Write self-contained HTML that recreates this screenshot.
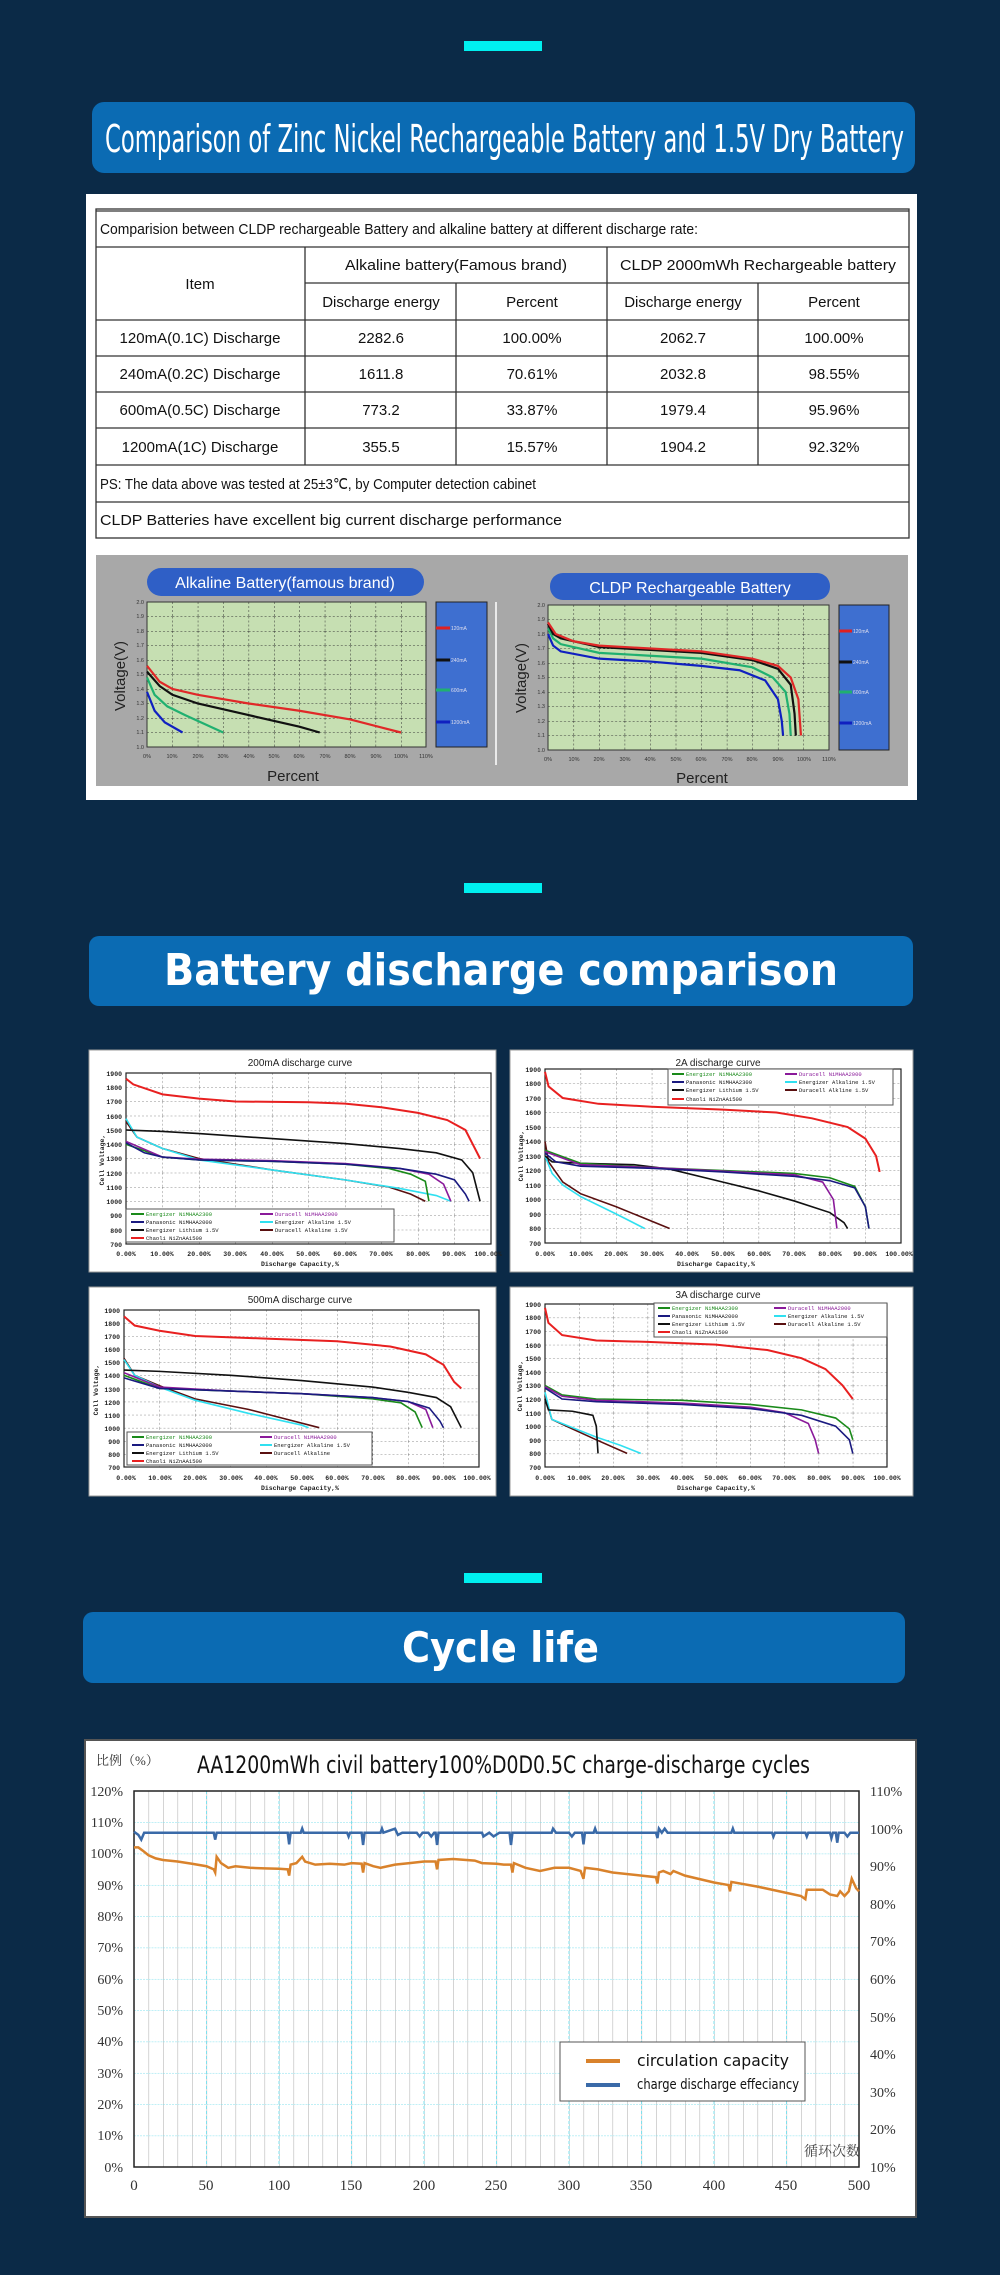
<!DOCTYPE html>
<html><head><meta charset="utf-8">
<style>
html,body{margin:0;padding:0;background:#0b2a47;}
svg{display:block}
</style></head>
<body>
<svg width="1000" height="2275" viewBox="0 0 1000 2275" xmlns="http://www.w3.org/2000/svg" font-family="Liberation Sans, sans-serif">
<defs>
<pattern id="gA" x="147" y="602" width="25.4" height="14.5" patternUnits="userSpaceOnUse"><path d="M0 0H25.4M0 0V14.5" stroke="#333" stroke-width="1" stroke-dasharray="2,2" fill="none"/></pattern>
<pattern id="gB" x="548" y="605" width="25.55" height="14.5" patternUnits="userSpaceOnUse"><path d="M0 0H25.55M0 0V14.5" stroke="#333" stroke-width="1" stroke-dasharray="2,2" fill="none"/></pattern>
<pattern id="g1" x="126" y="1073" width="36.5" height="14.25" patternUnits="userSpaceOnUse"><path d="M0 0H36.5M0 0V14.25" stroke="#666" stroke-width="0.8" stroke-dasharray="2,2" fill="none"/></pattern>
<pattern id="g2" x="545" y="1069" width="35.6" height="14.5" patternUnits="userSpaceOnUse"><path d="M0 0H35.6M0 0V14.5" stroke="#666" stroke-width="0.8" stroke-dasharray="2,2" fill="none"/></pattern>
<pattern id="g3" x="124" y="1310" width="35.5" height="13.1" patternUnits="userSpaceOnUse"><path d="M0 0H35.5M0 0V13.1" stroke="#666" stroke-width="0.8" stroke-dasharray="2,2" fill="none"/></pattern>
<pattern id="g4" x="545" y="1304" width="34.2" height="13.6" patternUnits="userSpaceOnUse"><path d="M0 0H34.2M0 0V13.6" stroke="#666" stroke-width="0.8" stroke-dasharray="2,2" fill="none"/></pattern>
<pattern id="gc" x="134" y="1791" width="14.5" height="31.33" patternUnits="userSpaceOnUse"><path d="M0 0V31.33" stroke="#b8b8b8" stroke-width="1.2" fill="none"/><path d="M0 0H14.5" stroke="#7fe0ee" stroke-width="1" stroke-dasharray="2,1" fill="none"/></pattern>
</defs>

<rect x="464" y="41" width="78" height="10" fill="#00f0f0"/>
<rect x="464" y="883" width="78" height="10" fill="#00f0f0"/>
<rect x="464" y="1573" width="78" height="10" fill="#00f0f0"/>

<rect x="92" y="102" width="823" height="71" rx="12" fill="#0b6bb3"/>
<text x="105" y="152" font-size="38" fill="#fff" textLength="799" lengthAdjust="spacingAndGlyphs" font-family="DejaVu Sans, sans-serif">Comparison of Zinc  Nickel Rechargeable Battery and 1.5V Dry Battery</text>
<rect x="89" y="936" width="824" height="70" rx="10" fill="#0b6bb3"/>
<text x="164" y="985" font-size="44" font-weight="bold" fill="#fff" textLength="674" lengthAdjust="spacingAndGlyphs" font-family="DejaVu Sans, sans-serif">Battery discharge comparison</text>
<rect x="83" y="1612" width="822" height="71" rx="10" fill="#0b6bb3"/>
<text x="402" y="1662" font-size="42" font-weight="bold" fill="#fff" textLength="197" lengthAdjust="spacingAndGlyphs" font-family="DejaVu Sans, sans-serif">Cycle life</text>

<rect x="86" y="194" width="831" height="606" fill="#fff"/>
<g stroke="#333" stroke-width="1.3" fill="none">
<rect x="96" y="209" width="813" height="329"/>
<line x1="96" y1="211" x2="909" y2="211"/>
<line x1="96" y1="247" x2="909" y2="247"/>
<line x1="305" y1="283" x2="909" y2="283"/>
<line x1="96" y1="320" x2="909" y2="320"/>
<line x1="96" y1="356" x2="909" y2="356"/>
<line x1="96" y1="392" x2="909" y2="392"/>
<line x1="96" y1="428" x2="909" y2="428"/>
<line x1="96" y1="465" x2="909" y2="465"/>
<line x1="96" y1="502" x2="909" y2="502"/>
<line x1="305" y1="247" x2="305" y2="465"/>
<line x1="607" y1="247" x2="607" y2="465"/>
<line x1="456" y1="283" x2="456" y2="465"/>
<line x1="758" y1="283" x2="758" y2="465"/>
</g>
<g font-size="15" fill="#111" text-anchor="middle">
<text x="100" y="234" text-anchor="start" textLength="598" lengthAdjust="spacingAndGlyphs">Comparision between CLDP rechargeable Battery and alkaline battery at different discharge rate:</text>
<text x="200" y="289">Item</text>
<text x="456" y="270" textLength="222" lengthAdjust="spacingAndGlyphs">Alkaline battery(Famous brand)</text>
<text x="758" y="270" textLength="276" lengthAdjust="spacingAndGlyphs">CLDP 2000mWh Rechargeable battery</text>
<text x="381" y="307">Discharge energy</text><text x="532" y="307">Percent</text>
<text x="683" y="307">Discharge energy</text><text x="834" y="307">Percent</text>
<text x="200" y="343">120mA(0.1C) Discharge</text><text x="381" y="343">2282.6</text><text x="532" y="343">100.00%</text><text x="683" y="343">2062.7</text><text x="834" y="343">100.00%</text>
<text x="200" y="379">240mA(0.2C) Discharge</text><text x="381" y="379">1611.8</text><text x="532" y="379">70.61%</text><text x="683" y="379">2032.8</text><text x="834" y="379">98.55%</text>
<text x="200" y="415">600mA(0.5C) Discharge</text><text x="381" y="415">773.2</text><text x="532" y="415">33.87%</text><text x="683" y="415">1979.4</text><text x="834" y="415">95.96%</text>
<text x="200" y="452">1200mA(1C) Discharge</text><text x="381" y="452">355.5</text><text x="532" y="452">15.57%</text><text x="683" y="452">1904.2</text><text x="834" y="452">92.32%</text>
<text x="100" y="489" text-anchor="start" textLength="436" lengthAdjust="spacingAndGlyphs">PS: The data above was tested at 25±3℃, by Computer detection cabinet</text>
<text x="100" y="525" text-anchor="start" textLength="462" lengthAdjust="spacingAndGlyphs">CLDP Batteries have excellent big current discharge performance</text>
</g>

<rect x="96" y="555" width="812" height="231" fill="#a8a8a8"/>
<rect x="147" y="568" width="277" height="28" rx="14" fill="#2f5fc6"/>
<text x="285" y="588" font-size="16" fill="#fff" text-anchor="middle">Alkaline Battery(famous brand)</text>
<rect x="550" y="573" width="280" height="27" rx="13" fill="#2f5fc6"/>
<text x="690" y="593" font-size="16" fill="#fff" text-anchor="middle">CLDP Rechargeable Battery</text>
<line x1="496" y1="602" x2="496" y2="765" stroke="#fff" stroke-width="1.5"/>
<rect x="147" y="602" width="279" height="145" fill="#c6dfb2" stroke="#333"/>
<rect x="147" y="602" width="279" height="145" fill="url(#gA)"/>
<rect x="548" y="605" width="281" height="145" fill="#c6dfb2" stroke="#333"/>
<rect x="548" y="605" width="281" height="145" fill="url(#gB)"/>
<rect x="436" y="602" width="51" height="145" fill="#3e6fd0" stroke="#222"/>
<rect x="839" y="605" width="50" height="145" fill="#3e6fd0" stroke="#222"/>
<g font-size="5.5" fill="#333" text-anchor="end">
<text x="144" y="604">2.0</text><text x="144" y="618">1.9</text><text x="144" y="633">1.8</text><text x="144" y="647">1.7</text><text x="144" y="662">1.6</text><text x="144" y="676">1.5</text><text x="144" y="691">1.4</text><text x="144" y="705">1.3</text><text x="144" y="720">1.2</text><text x="144" y="734">1.1</text><text x="144" y="749">1.0</text>
<text x="545" y="607">2.0</text><text x="545" y="621">1.9</text><text x="545" y="636">1.8</text><text x="545" y="650">1.7</text><text x="545" y="665">1.6</text><text x="545" y="679">1.5</text><text x="545" y="694">1.4</text><text x="545" y="708">1.3</text><text x="545" y="723">1.2</text><text x="545" y="737">1.1</text><text x="545" y="752">1.0</text>
</g>
<g font-size="5.5" fill="#333" text-anchor="middle">
<text x="147" y="758">0%</text><text x="172" y="758">10%</text><text x="198" y="758">20%</text><text x="223" y="758">30%</text><text x="249" y="758">40%</text><text x="274" y="758">50%</text><text x="299" y="758">60%</text><text x="325" y="758">70%</text><text x="350" y="758">80%</text><text x="376" y="758">90%</text><text x="401" y="758">100%</text><text x="426" y="758">110%</text>
<text x="548" y="761">0%</text><text x="574" y="761">10%</text><text x="599" y="761">20%</text><text x="625" y="761">30%</text><text x="650" y="761">40%</text><text x="676" y="761">50%</text><text x="701" y="761">60%</text><text x="727" y="761">70%</text><text x="752" y="761">80%</text><text x="778" y="761">90%</text><text x="804" y="761">100%</text><text x="829" y="761">110%</text>
</g>
<text x="293" y="781" font-size="15" fill="#222" text-anchor="middle">Percent</text>
<text x="702" y="783" font-size="15" fill="#222" text-anchor="middle">Percent</text>
<text transform="translate(125,676) rotate(-90)" font-size="15" fill="#222" text-anchor="middle">Voltage(V)</text>
<text transform="translate(526,678) rotate(-90)" font-size="15" fill="#222" text-anchor="middle">Voltage(V)</text>
<g stroke-width="3" fill="none">
<line x1="436" y1="628" x2="450" y2="628" stroke="#e02020"/><line x1="436" y1="660" x2="450" y2="660" stroke="#111"/><line x1="436" y1="690" x2="450" y2="690" stroke="#20b070"/><line x1="436" y1="722" x2="450" y2="722" stroke="#1020c0"/>
<line x1="839" y1="631" x2="852" y2="631" stroke="#e02020"/><line x1="839" y1="662" x2="852" y2="662" stroke="#111"/><line x1="839" y1="692" x2="852" y2="692" stroke="#20b070"/><line x1="839" y1="723" x2="852" y2="723" stroke="#1020c0"/>
</g>
<g font-size="5" fill="#dde">
<text x="451" y="630">120mA</text><text x="451" y="662">240mA</text><text x="451" y="692">600mA</text><text x="451" y="724">1200mA</text>
<text x="853" y="633">120mA</text><text x="853" y="664">240mA</text><text x="853" y="694">600mA</text><text x="853" y="725">1200mA</text>
</g>
<g transform="translate(147,747) scale(2.54,-145) translate(0,-1)" fill="none" stroke-width="2.2">
<polyline vector-effect="non-scaling-stroke" stroke="#e02828" points="0,1.56 5,1.45 10,1.40 20,1.36 40,1.30 60,1.25 80,1.19 100,1.10"/>
<polyline vector-effect="non-scaling-stroke" stroke="#111" points="0,1.52 5,1.42 10,1.36 20,1.30 40,1.22 60,1.14 68,1.10"/>
<polyline vector-effect="non-scaling-stroke" stroke="#20b070" points="0,1.48 3,1.36 8,1.28 15,1.22 30,1.10"/>
<polyline vector-effect="non-scaling-stroke" stroke="#1020c0" points="0,1.38 3,1.25 7,1.17 14,1.10"/>
</g>
<g transform="translate(548,750) scale(2.555,-145) translate(0,-1)" fill="none" stroke-width="2.2">
<polyline vector-effect="non-scaling-stroke" stroke="#1020c0" points="0,1.80 2,1.72 5,1.68 20,1.63 40,1.61 60,1.58 75,1.55 85,1.48 90,1.35 91.5,1.20 92,1.10"/>
<polyline vector-effect="non-scaling-stroke" stroke="#20b070" points="0,1.84 2,1.77 5,1.73 20,1.67 40,1.65 60,1.63 80,1.57 88,1.50 93,1.40 94.5,1.25 95,1.10"/>
<polyline vector-effect="non-scaling-stroke" stroke="#111" points="0,1.87 2,1.80 5,1.77 20,1.71 40,1.69 60,1.67 80,1.62 90,1.56 95,1.45 96.5,1.25 97,1.10"/>
<polyline vector-effect="non-scaling-stroke" stroke="#e02828" points="0,1.88 3,1.80 10,1.75 20,1.72 40,1.70 60,1.68 80,1.63 90,1.58 95,1.50 98,1.35 99,1.10"/>
</g>

<rect x="89" y="1050" width="407" height="222" fill="#fff" stroke="#999"/>
<rect x="510" y="1050" width="403" height="222" fill="#fff" stroke="#999"/>
<rect x="89" y="1287" width="407" height="209" fill="#fff" stroke="#999"/>
<rect x="510" y="1287" width="403" height="209" fill="#fff" stroke="#999"/>

<rect x="126" y="1073" width="365" height="171" fill="url(#g1)" stroke="#222" stroke-width="1.2"/>
<text x="300" y="1066" font-size="10" text-anchor="middle" fill="#222">200mA discharge curve</text>
<g font-size="6.5" font-family="Liberation Mono, monospace" font-weight="bold" fill="#222" text-anchor="end">
<text x="122" y="1076">1900</text><text x="122" y="1090">1800</text><text x="122" y="1104">1700</text><text x="122" y="1119">1600</text><text x="122" y="1133">1500</text><text x="122" y="1147">1400</text><text x="122" y="1161">1300</text><text x="122" y="1176">1200</text><text x="122" y="1190">1100</text><text x="122" y="1204">1000</text><text x="122" y="1218">900</text><text x="122" y="1233">800</text><text x="122" y="1247">700</text>
</g>
<g font-size="6.5" font-family="Liberation Mono, monospace" font-weight="bold" fill="#222" text-anchor="middle">
<text x="126" y="1256">0.00%</text><text x="162" y="1256">10.00%</text><text x="199" y="1256">20.00%</text><text x="235" y="1256">30.00%</text><text x="272" y="1256">40.00%</text><text x="308" y="1256">50.00%</text><text x="345" y="1256">60.00%</text><text x="381" y="1256">70.00%</text><text x="418" y="1256">80.00%</text><text x="454" y="1256">90.00%</text><text x="488" y="1256">100.00%</text>
<text x="300" y="1266">Discharge Capacity,%</text>
<text transform="translate(104,1160) rotate(-90)">Cell Voltage,</text>
</g>
<g transform="translate(126,1244) scale(3.65,-0.1425) translate(0,-700)" fill="none" stroke-width="1.6">
<polyline vector-effect="non-scaling-stroke" stroke="#5a1010" points="0,1560 3,1450 10,1370 20,1300 40,1220 60,1150 72,1100 78,1050 82,1000"/>
<polyline vector-effect="non-scaling-stroke" stroke="#30e0f0" points="0,1580 3,1450 10,1370 20,1290 40,1220 60,1150 75,1090 85,1040 89,1000"/>
<polyline vector-effect="non-scaling-stroke" stroke="#1a8a1a" points="0,1400 10,1310 20,1290 40,1280 60,1260 72,1230 78,1190 82,1140 83,1000"/>
<polyline vector-effect="non-scaling-stroke" stroke="#8a1a9a" points="0,1420 10,1310 20,1295 40,1285 60,1265 75,1230 83,1190 87,1120 89,1000"/>
<polyline vector-effect="non-scaling-stroke" stroke="#1a1a80" points="0,1410 5,1340 10,1310 20,1290 40,1280 60,1260 75,1230 85,1190 90,1150 93,1050 94,1000"/>
<polyline vector-effect="non-scaling-stroke" stroke="#111" points="0,1500 10,1490 20,1475 40,1440 60,1405 75,1370 85,1340 92,1290 95,1200 97,1000"/>
<polyline vector-effect="non-scaling-stroke" stroke="#e82020" stroke-width="2" points="0,1860 2,1820 10,1750 20,1720 30,1700 50,1695 60,1685 70,1660 80,1620 88,1570 93,1500 97,1300"/>
</g>
<rect x="126" y="1209" width="268" height="33" fill="#fff" stroke="#555"/>
<g font-size="5.5" font-family="Liberation Mono, monospace">
<line x1="131" y1="1214" x2="144" y2="1214" stroke="#1a8a1a" stroke-width="2"/><text x="146" y="1216" fill="#1a8a1a">Energizer NiMHAA2300</text>
<line x1="260" y1="1214" x2="273" y2="1214" stroke="#8a1a9a" stroke-width="2"/><text x="275" y="1216" fill="#8a1a9a">Duracell NiMHAA2000</text>
<line x1="131" y1="1222" x2="144" y2="1222" stroke="#1a1a80" stroke-width="2"/><text x="146" y="1224" fill="#111">Panasonic NiMHAA2000</text>
<line x1="260" y1="1222" x2="273" y2="1222" stroke="#30e0f0" stroke-width="2"/><text x="275" y="1224" fill="#111">Energizer Alkaline 1.5V</text>
<line x1="131" y1="1230" x2="144" y2="1230" stroke="#111" stroke-width="2"/><text x="146" y="1232" fill="#111">Energizer Lithium 1.5V</text>
<line x1="260" y1="1230" x2="273" y2="1230" stroke="#5a1010" stroke-width="2"/><text x="275" y="1232" fill="#111">Duracell Alkaline 1.5V</text>
<line x1="131" y1="1238" x2="144" y2="1238" stroke="#e82020" stroke-width="2"/><text x="146" y="1240" fill="#111">Chaoli NiZnAA1500</text>
</g>

<rect x="545" y="1069" width="356" height="174" fill="url(#g2)" stroke="#222" stroke-width="1.2"/>
<text x="718" y="1066" font-size="10" text-anchor="middle" fill="#222">2A discharge curve</text>
<g font-size="6.5" font-family="Liberation Mono, monospace" font-weight="bold" fill="#222" text-anchor="end">
<text x="541" y="1072">1900</text><text x="541" y="1086">1800</text><text x="541" y="1101">1700</text><text x="541" y="1115">1600</text><text x="541" y="1130">1500</text><text x="541" y="1144">1400</text><text x="541" y="1159">1300</text><text x="541" y="1173">1200</text><text x="541" y="1188">1100</text><text x="541" y="1202">1000</text><text x="541" y="1217">900</text><text x="541" y="1231">800</text><text x="541" y="1246">700</text>
</g>
<g font-size="6.5" font-family="Liberation Mono, monospace" font-weight="bold" fill="#222" text-anchor="middle">
<text x="545" y="1256">0.00%</text><text x="581" y="1256">10.00%</text><text x="616" y="1256">20.00%</text><text x="652" y="1256">30.00%</text><text x="687" y="1256">40.00%</text><text x="723" y="1256">50.00%</text><text x="759" y="1256">60.00%</text><text x="794" y="1256">70.00%</text><text x="830" y="1256">80.00%</text><text x="865" y="1256">90.00%</text><text x="899" y="1256">100.00%</text>
<text x="716" y="1266">Discharge Capacity,%</text>
<text transform="translate(523,1156) rotate(-90)">Cell Voltage,</text>
</g>
<g transform="translate(545,1243) scale(3.56,-0.145) translate(0,-700)" fill="none" stroke-width="1.6">
<polyline vector-effect="non-scaling-stroke" stroke="#5a1010" points="0,1400 1,1260 5,1120 10,1040 20,950 30,850 35,800"/>
<polyline vector-effect="non-scaling-stroke" stroke="#30e0f0" points="0,1300 2,1180 5,1100 10,1020 20,900 28,800"/>
<polyline vector-effect="non-scaling-stroke" stroke="#111" points="0,1300 2,1260 10,1250 25,1240 35,1210 50,1120 60,1060 70,990 80,910 84,840 85,800"/>
<polyline vector-effect="non-scaling-stroke" stroke="#1a8a1a" points="0,1340 10,1250 30,1220 50,1200 70,1180 80,1150 87,1090 90,950 91,800"/>
<polyline vector-effect="non-scaling-stroke" stroke="#8a1a9a" points="0,1330 10,1240 30,1220 50,1195 70,1170 78,1120 81,1000 82,800"/>
<polyline vector-effect="non-scaling-stroke" stroke="#1a1a80" points="0,1320 3,1260 10,1230 30,1215 50,1190 70,1160 80,1130 87,1080 90,950 91,800"/>
<polyline vector-effect="non-scaling-stroke" stroke="#e82020" stroke-width="2" points="0,1880 1,1780 5,1700 15,1660 30,1640 50,1620 65,1600 75,1560 85,1500 90,1420 93,1300 94,1190"/>
</g>
<rect x="668" y="1069" width="225" height="36" fill="#fff" stroke="#555"/>
<g font-size="5.5" font-family="Liberation Mono, monospace">
<line x1="672" y1="1074" x2="684" y2="1074" stroke="#1a8a1a" stroke-width="2"/><text x="686" y="1076" fill="#1a8a1a">Energizer NiMHAA2300</text>
<line x1="785" y1="1074" x2="797" y2="1074" stroke="#8a1a9a" stroke-width="2"/><text x="799" y="1076" fill="#8a1a9a">Duracell NiMHAA2000</text>
<line x1="672" y1="1082" x2="684" y2="1082" stroke="#1a1a80" stroke-width="2"/><text x="686" y="1084" fill="#111">Panasonic NiMHAA2300</text>
<line x1="785" y1="1082" x2="797" y2="1082" stroke="#30e0f0" stroke-width="2"/><text x="799" y="1084" fill="#111">Energizer Alkaline 1.5V</text>
<line x1="672" y1="1090" x2="684" y2="1090" stroke="#111" stroke-width="2"/><text x="686" y="1092" fill="#111">Energizer Lithium 1.5V</text>
<line x1="785" y1="1090" x2="797" y2="1090" stroke="#5a1010" stroke-width="2"/><text x="799" y="1092" fill="#111">Duracell Alkline 1.5V</text>
<line x1="672" y1="1099" x2="684" y2="1099" stroke="#e82020" stroke-width="2"/><text x="686" y="1101" fill="#111">Chaoli NiZnAA1500</text>
</g>

<rect x="124" y="1310" width="355" height="157" fill="url(#g3)" stroke="#222" stroke-width="1.2"/>
<text x="300" y="1303" font-size="10" text-anchor="middle" fill="#222">500mA discharge curve</text>
<g font-size="6.5" font-family="Liberation Mono, monospace" font-weight="bold" fill="#222" text-anchor="end">
<text x="120" y="1313">1900</text><text x="120" y="1326">1800</text><text x="120" y="1339">1700</text><text x="120" y="1352">1600</text><text x="120" y="1365">1500</text><text x="120" y="1378">1400</text><text x="120" y="1392">1300</text><text x="120" y="1405">1200</text><text x="120" y="1418">1100</text><text x="120" y="1431">1000</text><text x="120" y="1444">900</text><text x="120" y="1457">800</text><text x="120" y="1470">700</text>
</g>
<g font-size="6.5" font-family="Liberation Mono, monospace" font-weight="bold" fill="#222" text-anchor="middle">
<text x="126" y="1480">0.00%</text><text x="160" y="1480">10.00%</text><text x="195" y="1480">20.00%</text><text x="231" y="1480">30.00%</text><text x="266" y="1480">40.00%</text><text x="302" y="1480">50.00%</text><text x="337" y="1480">60.00%</text><text x="373" y="1480">70.00%</text><text x="408" y="1480">80.00%</text><text x="444" y="1480">90.00%</text><text x="477" y="1480">100.00%</text>
<text x="300" y="1490">Discharge Capacity,%</text>
<text transform="translate(98,1390) rotate(-90)">Cell Voltage,</text>
</g>
<g transform="translate(124,1467) scale(3.55,-0.131) translate(0,-700)" fill="none" stroke-width="1.6">
<polyline vector-effect="non-scaling-stroke" stroke="#5a1010" points="0,1530 3,1400 10,1320 20,1220 35,1140 45,1070 55,1000"/>
<polyline vector-effect="non-scaling-stroke" stroke="#30e0f0" points="0,1520 3,1400 10,1310 20,1210 35,1110 50,1020 52,1000"/>
<polyline vector-effect="non-scaling-stroke" stroke="#1a8a1a" points="0,1400 10,1300 30,1280 50,1260 70,1220 78,1190 82,1120 84,1000"/>
<polyline vector-effect="non-scaling-stroke" stroke="#8a1a9a" points="0,1420 10,1310 30,1280 50,1260 70,1230 80,1200 85,1140 87,1000"/>
<polyline vector-effect="non-scaling-stroke" stroke="#1a1a80" points="0,1380 10,1300 30,1280 50,1260 70,1230 80,1200 86,1150 89,1050 90,1000"/>
<polyline vector-effect="non-scaling-stroke" stroke="#111" points="0,1440 10,1430 30,1400 50,1360 70,1310 80,1270 88,1230 92,1160 95,1000"/>
<polyline vector-effect="non-scaling-stroke" stroke="#e82020" stroke-width="2" points="0,1850 3,1780 10,1740 20,1700 40,1680 60,1660 75,1620 85,1560 90,1480 93,1350 95,1300"/>
</g>
<rect x="127" y="1432" width="245" height="33" fill="#fff" stroke="#555"/>
<g font-size="5.5" font-family="Liberation Mono, monospace">
<line x1="132" y1="1437" x2="144" y2="1437" stroke="#1a8a1a" stroke-width="2"/><text x="146" y="1439" fill="#1a8a1a">Energizer NiMHAA2300</text>
<line x1="260" y1="1437" x2="272" y2="1437" stroke="#8a1a9a" stroke-width="2"/><text x="274" y="1439" fill="#8a1a9a">Duracell NiMHAA2000</text>
<line x1="132" y1="1445" x2="144" y2="1445" stroke="#1a1a80" stroke-width="2"/><text x="146" y="1447" fill="#111">Panasonic NiMHAA2000</text>
<line x1="260" y1="1445" x2="272" y2="1445" stroke="#30e0f0" stroke-width="2"/><text x="274" y="1447" fill="#111">Energizer Alkaline 1.5V</text>
<line x1="132" y1="1453" x2="144" y2="1453" stroke="#111" stroke-width="2"/><text x="146" y="1455" fill="#111">Energizer Lithium 1.5V</text>
<line x1="260" y1="1453" x2="272" y2="1453" stroke="#5a1010" stroke-width="2"/><text x="274" y="1455" fill="#111">Duracell Alkaline</text>
<line x1="132" y1="1461" x2="144" y2="1461" stroke="#e82020" stroke-width="2"/><text x="146" y="1463" fill="#111">Chaoli NiZnAA1500</text>
</g>

<rect x="545" y="1304" width="342" height="163" fill="url(#g4)" stroke="#222" stroke-width="1.2"/>
<text x="718" y="1298" font-size="10" text-anchor="middle" fill="#222">3A discharge curve</text>
<g font-size="6.5" font-family="Liberation Mono, monospace" font-weight="bold" fill="#222" text-anchor="end">
<text x="541" y="1307">1900</text><text x="541" y="1320">1800</text><text x="541" y="1334">1700</text><text x="541" y="1348">1600</text><text x="541" y="1361">1500</text><text x="541" y="1375">1400</text><text x="541" y="1388">1300</text><text x="541" y="1402">1200</text><text x="541" y="1416">1100</text><text x="541" y="1429">1000</text><text x="541" y="1443">900</text><text x="541" y="1456">800</text><text x="541" y="1470">700</text>
</g>
<g font-size="6.5" font-family="Liberation Mono, monospace" font-weight="bold" fill="#222" text-anchor="middle">
<text x="545" y="1480">0.00%</text><text x="579" y="1480">10.00%</text><text x="613" y="1480">20.00%</text><text x="648" y="1480">30.00%</text><text x="682" y="1480">40.00%</text><text x="716" y="1480">50.00%</text><text x="750" y="1480">60.00%</text><text x="784" y="1480">70.00%</text><text x="819" y="1480">80.00%</text><text x="853" y="1480">90.00%</text><text x="887" y="1480">100.00%</text>
<text x="716" y="1490">Discharge Capacity,%</text>
<text transform="translate(522,1386) rotate(-90)">Cell Voltage,</text>
</g>
<g transform="translate(545,1467) scale(3.42,-0.136) translate(0,-700)" fill="none" stroke-width="1.6">
<polyline vector-effect="non-scaling-stroke" stroke="#5a1010" points="0,1220 2,1050 8,980 15,900 24,800"/>
<polyline vector-effect="non-scaling-stroke" stroke="#30e0f0" points="0,1250 2,1050 8,990 15,920 22,860 28,800"/>
<polyline vector-effect="non-scaling-stroke" stroke="#111" points="0,1200 1,1120 8,1110 12,1090 14,1080 15,1000 15.5,800"/>
<polyline vector-effect="non-scaling-stroke" stroke="#1a8a1a" points="0,1300 5,1230 15,1200 40,1190 60,1160 75,1120 85,1060 89,980 90,900"/>
<polyline vector-effect="non-scaling-stroke" stroke="#8a1a9a" points="0,1290 5,1220 15,1190 40,1170 60,1140 70,1100 77,1020 79,900 80,800"/>
<polyline vector-effect="non-scaling-stroke" stroke="#1a1a80" points="0,1280 5,1200 15,1180 40,1160 60,1130 75,1080 85,1000 89,900 90,800"/>
<polyline vector-effect="non-scaling-stroke" stroke="#e82020" stroke-width="2" points="0,1870 1,1760 5,1670 15,1630 30,1620 50,1600 65,1560 75,1500 82,1420 87,1300 90,1200"/>
</g>
<rect x="654" y="1303" width="233" height="34" fill="#fff" stroke="#555"/>
<g font-size="5.5" font-family="Liberation Mono, monospace">
<line x1="658" y1="1308" x2="670" y2="1308" stroke="#1a8a1a" stroke-width="2"/><text x="672" y="1310" fill="#1a8a1a">Energizer NiMHAA2300</text>
<line x1="774" y1="1308" x2="786" y2="1308" stroke="#8a1a9a" stroke-width="2"/><text x="788" y="1310" fill="#8a1a9a">Duracell NiMHAA2000</text>
<line x1="658" y1="1316" x2="670" y2="1316" stroke="#1a1a80" stroke-width="2"/><text x="672" y="1318" fill="#111">Panasonic NiMHAA2000</text>
<line x1="774" y1="1316" x2="786" y2="1316" stroke="#30e0f0" stroke-width="2"/><text x="788" y="1318" fill="#111">Energizer Alkaline 1.5V</text>
<line x1="658" y1="1324" x2="670" y2="1324" stroke="#111" stroke-width="2"/><text x="672" y="1326" fill="#111">Energizer Lithium 1.5V</text>
<line x1="774" y1="1324" x2="786" y2="1324" stroke="#5a1010" stroke-width="2"/><text x="788" y="1326" fill="#111">Duracell Alkaline 1.5V</text>
<line x1="658" y1="1332" x2="670" y2="1332" stroke="#e82020" stroke-width="2"/><text x="672" y="1334" fill="#111">Chaoli NiZnAA1500</text>
</g>

<rect x="85" y="1740" width="831" height="477" fill="#fff" stroke="#555" stroke-width="2"/>
<text x="96" y="1765" font-size="13" fill="#333" font-family="Liberation Serif, Noto Serif CJK SC, serif">比例（%）</text>
<text x="197" y="1773" font-size="24" fill="#111" textLength="613" lengthAdjust="spacingAndGlyphs" font-family="DejaVu Sans, sans-serif">AA1200mWh civil battery100%D0D0.5C  charge-discharge cycles</text>
<rect x="134" y="1791" width="725" height="376" fill="url(#gc)"/>
<g stroke="#7fe0ee" stroke-width="1" stroke-dasharray="3,2">
<line x1="206.5" y1="1791" x2="206.5" y2="2167"/><line x1="279" y1="1791" x2="279" y2="2167"/><line x1="351.5" y1="1791" x2="351.5" y2="2167"/><line x1="424" y1="1791" x2="424" y2="2167"/><line x1="496.5" y1="1791" x2="496.5" y2="2167"/><line x1="569" y1="1791" x2="569" y2="2167"/><line x1="641.5" y1="1791" x2="641.5" y2="2167"/><line x1="714" y1="1791" x2="714" y2="2167"/><line x1="786.5" y1="1791" x2="786.5" y2="2167"/>
</g>
<rect x="134" y="1791" width="725" height="376" fill="none" stroke="#222" stroke-width="1.5"/>
<g font-size="14" fill="#333" text-anchor="end" font-family="Liberation Serif, serif">
<text x="123" y="1796">120%</text><text x="123" y="1827">110%</text><text x="123" y="1858">100%</text><text x="123" y="1890">90%</text><text x="123" y="1921">80%</text><text x="123" y="1952">70%</text><text x="123" y="1984">60%</text><text x="123" y="2015">50%</text><text x="123" y="2046">40%</text><text x="123" y="2078">30%</text><text x="123" y="2109">20%</text><text x="123" y="2140">10%</text><text x="123" y="2172">0%</text>
</g>
<g font-size="14" fill="#333" font-family="Liberation Serif, serif">
<text x="870" y="1796">110%</text><text x="870" y="1834">100%</text><text x="870" y="1871">90%</text><text x="870" y="1909">80%</text><text x="870" y="1946">70%</text><text x="870" y="1984">60%</text><text x="870" y="2022">50%</text><text x="870" y="2059">40%</text><text x="870" y="2097">30%</text><text x="870" y="2134">20%</text><text x="870" y="2172">10%</text>
</g>
<g font-size="15" fill="#333" text-anchor="middle" font-family="Liberation Serif, serif">
<text x="134" y="2190">0</text><text x="206" y="2190">50</text><text x="279" y="2190">100</text><text x="351" y="2190">150</text><text x="424" y="2190">200</text><text x="496" y="2190">250</text><text x="569" y="2190">300</text><text x="641" y="2190">350</text><text x="714" y="2190">400</text><text x="786" y="2190">450</text><text x="859" y="2190">500</text>
</g>
<text x="804" y="2156" font-size="14" fill="#444" font-family="Liberation Serif, Noto Serif CJK SC, serif">循环次数</text>
<g transform="translate(134,2167) scale(1.45,-3.133)" fill="none" stroke-width="2.5">
<polyline vector-effect="non-scaling-stroke" stroke="#d9822b" points="0,102 3,102 6,101 10,99.5 15,98.5 20,98 30,97.5 40,96.8 50,96 55,95 56,94 57,99 60,97 65,95.5 70,96 80,95.5 90,95.3 100,95.2 106,95 107,93 108,96.5 112,97 116,99 118,97.5 125,96.5 135,96.8 145,96.5 150,97 157,96.8 158,94 159,97 165,96 170,95.5 180,96.5 190,97 200,97.5 208,97.5 209,95 210,98 220,98.3 235,97.8 240,97 250,96.8 255,96.5 260,96.5 261,94 262,97 270,95.5 280,94.5 290,95.5 300,95.5 308,94.5 310,92 311,95.5 320,95 330,94 350,93 360,92.5 361,90.5 362,94 365,94.5 370,93.5 372,94.5 380,93 400,90.8 410,90 411,88 412,91 430,89.5 450,87.5 460,86.5 463,85.5 464,88.5 475,88.5 480,87 485,86.5 487,88 490,86.5 493,88 495,92 498,89 500,88"/>
<polyline vector-effect="non-scaling-stroke" stroke="#3a6aa8" points="0,107 3,106 5,104.5 7,106.7 55,106.7 56,104.5 57,106.7 106,106.7 107,103 108,106.7 115,106.7 116,108 117,106.7 147,106.7 148,105.5 149,106.7 157,106.7 158,102.8 159,106.7 170,106.7 171,108 172,106.7 180,108 182,106 185,106.7 195,106.7 197,105.5 199,106.7 203,106.7 205,105.5 207,106.7 208,106.7 209,102.8 210,106.7 240,106.7 241,105.5 245,106.7 248,105.5 252,106.7 259,106.7 260,102.8 261,106.7 288,106.7 289,108 291,106.7 300,106.7 302,105.5 304,106.7 309,106.7 310,103 311,106.7 317,106.7 318,108 319,106.7 360,106.7 361,105 362,108 364,106.7 366,108 368,106.7 412,106.7 413,108 414,106.7 440,106.7 441,105.5 442,106.7 463,106.7 464,105.5 465,106.7 480,106.7 481,105 482,106.7 484,106.7 485,103.5 486,106.7 490,106.7 492,105.5 494,106.7 500,106.7"/>
</g>
<rect x="560" y="2042" width="245" height="59" fill="#fff" stroke="#555"/>
<line x1="586" y1="2061" x2="620" y2="2061" stroke="#d9822b" stroke-width="4"/>
<line x1="586" y1="2085" x2="620" y2="2085" stroke="#3a6aa8" stroke-width="4"/>
<text x="637" y="2066" font-size="16" fill="#111" textLength="152" lengthAdjust="spacingAndGlyphs" font-family="DejaVu Sans, sans-serif">circulation capacity</text>
<text x="637" y="2089" font-size="14" fill="#111" textLength="162" lengthAdjust="spacingAndGlyphs" font-family="DejaVu Sans, sans-serif">charge discharge effeciancy</text>
</svg>
</body></html>
